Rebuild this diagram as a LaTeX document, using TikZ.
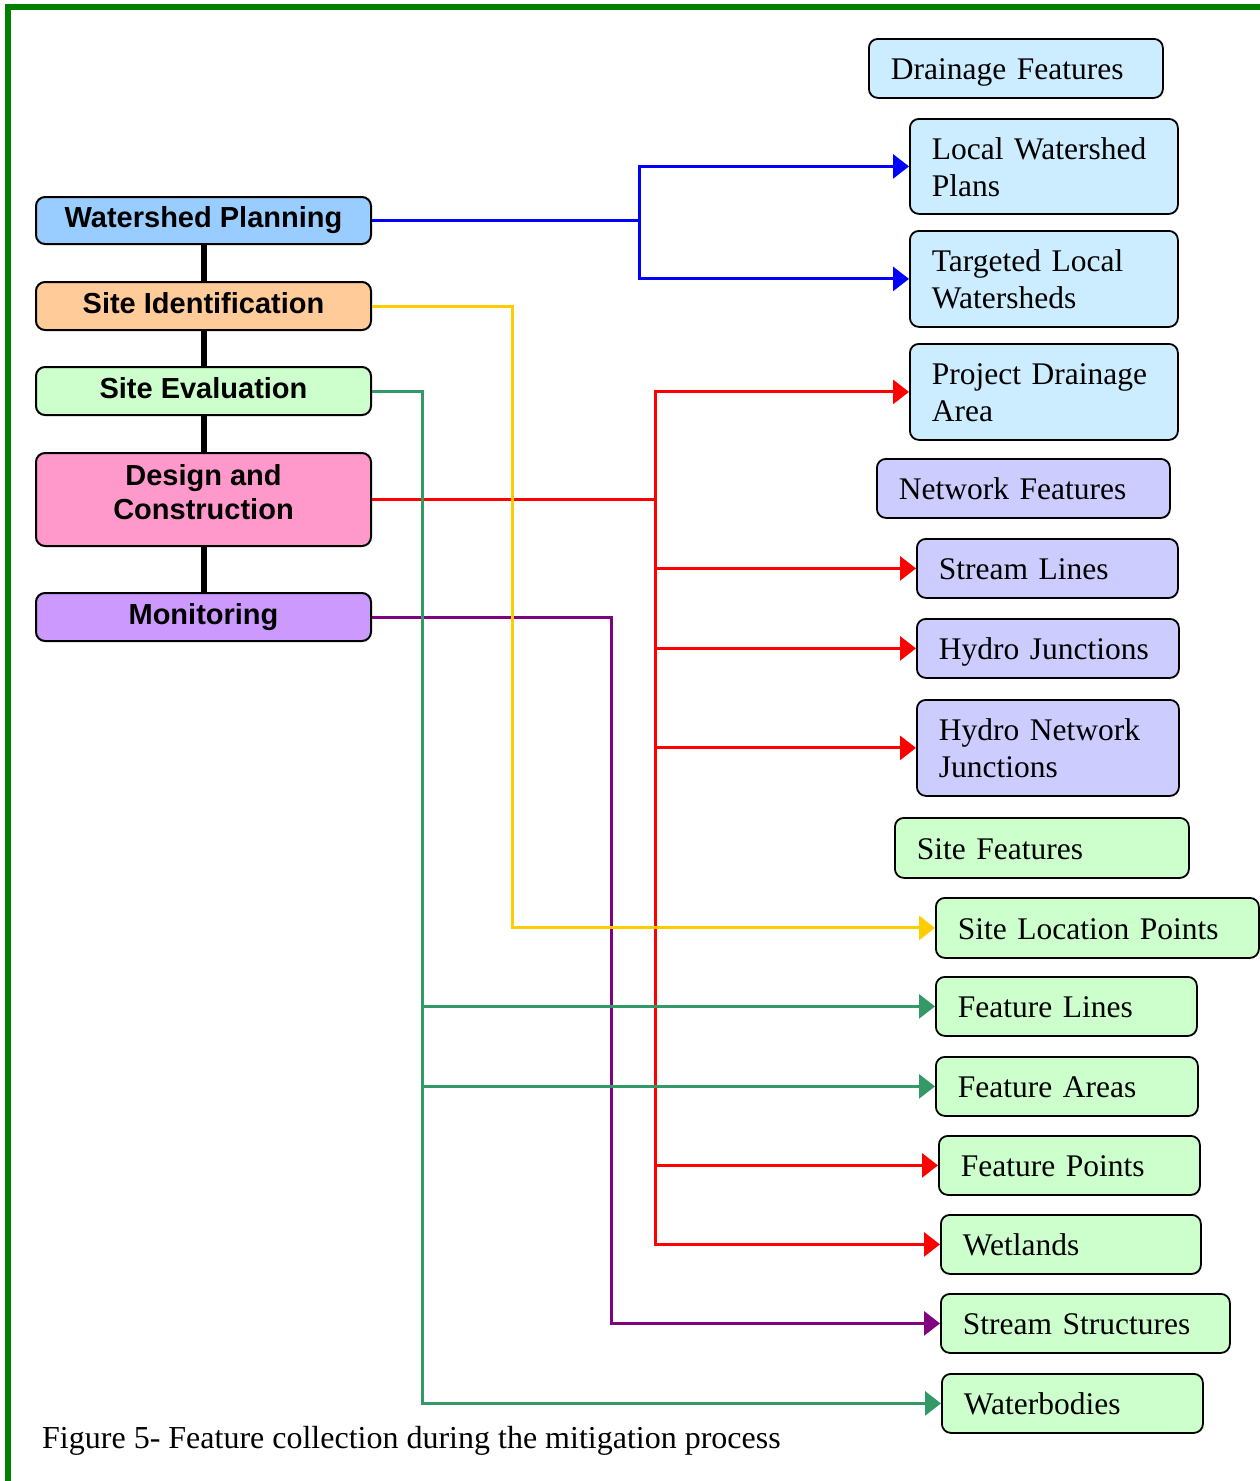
\documentclass[tikz,border=0pt]{standalone}
\usepackage{fontspec}
\setmainfont{Liberation Serif}
\newfontfamily\arialf{Liberation Sans}
\usetikzlibrary{arrows.meta}
\definecolor{frameg}{RGB}{0,128,0}
\definecolor{cwp}{RGB}{153,204,255}
\definecolor{csi}{RGB}{255,204,153}
\definecolor{cse}{RGB}{204,255,204}
\definecolor{cdc}{RGB}{255,153,204}
\definecolor{cmo}{RGB}{204,153,255}
\definecolor{cdrain}{RGB}{204,236,255}
\definecolor{cnet}{RGB}{204,204,255}
\definecolor{csite}{RGB}{204,255,204}
\definecolor{lblue}{RGB}{0,0,255}
\definecolor{lyel}{RGB}{255,204,0}
\definecolor{lgrn}{RGB}{51,153,102}
\definecolor{lred}{RGB}{255,0,0}
\definecolor{lpur}{RGB}{128,0,128}
\begin{document}
\begin{tikzpicture}[x=1pt,y=-1pt,
  lbox/.style={draw=black, line width=2pt, rounded corners=9pt, anchor=north west,
    inner sep=0pt, minimum width=335pt, align=center, text height=14pt, text depth=0pt,
    font=\arialf\bfseries\fontsize{29}{34}\selectfont},
  rbox/.style={draw=black, line width=1.8pt, rounded corners=9pt, anchor=north west,
    inner xsep=22pt, inner ysep=0pt, align=left, text height=23pt, text depth=0pt,
    font=\fontsize{31.5}{37}\selectfont},
  two/.style={text depth=37pt},
  arr/.style={line width=3pt, -{Triangle[length=16pt,width=24pt]}},
  stem/.style={line width=6pt, black}
]
\useasboundingbox (0,0) rectangle (1260,1481);
% frame
\draw[frameg, line width=6pt] (8,1481) -- (8,7) -- (1260,7);

% left column
\node[lbox, fill=cwp, minimum height=47pt] (wp) at (35,196) {Watershed Planning};
\node[lbox, fill=csi, minimum height=48pt] (si) at (35,281) {Site Identification};
\node[lbox, fill=cse, minimum height=48pt] (se) at (35,366) {Site Evaluation};
\node[lbox, fill=cdc, minimum height=93pt, text height=40pt, text depth=0pt] (dc) at (35,452) {Design and\\Construction};
\node[lbox, fill=cmo, minimum height=48pt] (mo) at (35,592) {Monitoring};

\draw[stem] (wp.south) -- (si.north);
\draw[stem] (si.south) -- (se.north);
\draw[stem] (se.south) -- (dc.north);
\draw[stem] (dc.south) -- (mo.north);

% right column
\node[rbox, fill=cdrain, minimum width=294pt, minimum height=59pt, text width=250pt] (df) at (868,38) {Drainage Features};
\node[rbox, fill=cdrain, two, minimum width=268pt, minimum height=95pt, text width=224pt] (lwp) at (909,118) {Local Watershed\\Plans};
\node[rbox, fill=cdrain, two, minimum width=268pt, minimum height=96pt, text width=224pt] (tlw) at (909,230) {Targeted Local\\Watersheds};
\node[rbox, fill=cdrain, two, minimum width=268pt, minimum height=96pt, text width=224pt] (pda) at (909,343) {Project Drainage\\Area};
\node[rbox, fill=cnet, minimum width=293pt, minimum height=59pt, text width=249pt] (nf) at (876,458) {Network Features};
\node[rbox, fill=cnet, minimum width=261pt, minimum height=59pt, text width=217pt] (sl) at (916,538) {Stream Lines};
\node[rbox, fill=cnet, minimum width=262pt, minimum height=59pt, text width=218pt] (hj) at (916,618) {Hydro Junctions};
\node[rbox, fill=cnet, two, minimum width=262pt, minimum height=96pt, text width=218pt] (hnj) at (916,699) {Hydro Network\\Junctions};
\node[rbox, fill=csite, minimum width=294pt, minimum height=60pt, text width=250pt] (sf) at (894,817) {Site Features};
\node[rbox, fill=csite, minimum width=323pt, minimum height=60pt, text width=279pt] (slp) at (935,897) {Site Location Points};
\node[rbox, fill=csite, minimum width=261pt, minimum height=59pt, text width=217pt] (fl) at (935,976) {Feature Lines};
\node[rbox, fill=csite, minimum width=262pt, minimum height=59pt, text width=218pt] (fa) at (935,1056) {Feature Areas};
\node[rbox, fill=csite, minimum width=261pt, minimum height=59pt, text width=217pt] (fp) at (938,1135) {Feature Points};
\node[rbox, fill=csite, minimum width=260pt, minimum height=59pt, text width=216pt] (wet) at (940,1214) {Wetlands};
\node[rbox, fill=csite, minimum width=289pt, minimum height=59pt, text width=245pt] (ss) at (940,1293) {Stream Structures};
\node[rbox, fill=csite, minimum width=261pt, minimum height=59pt, text width=217pt] (wb) at (941,1373) {Waterbodies};

% junction columns
\coordinate (bj) at (639,0);
\coordinate (yj) at (512,0);
\coordinate (gj) at (422,0);
\coordinate (rj) at (655,0);
\coordinate (pj) at (611,0);

% red
\draw[arr, lred] (dc.east) -| (rj |- pda.west) -- (pda.west);
\draw[arr, lred] (dc.east) -| (rj |- sl.west) -- (sl.west);
\draw[arr, lred] (dc.east) -| (rj |- hj.west) -- (hj.west);
\draw[arr, lred] (dc.east) -| (rj |- hnj.west) -- (hnj.west);
\draw[arr, lred] (dc.east) -| (rj |- fp.west) -- (fp.west);
\draw[arr, lred] (dc.east) -| (rj |- wet.west) -- (wet.west);
% purple
\draw[arr, lpur] (mo.east) -| (pj |- ss.west) -- (ss.west);
% yellow
\draw[arr, lyel] (si.east) -| (yj |- slp.west) -- (slp.west);
% green
\draw[arr, lgrn] (se.east) -| (gj |- fl.west) -- (fl.west);
\draw[arr, lgrn] (se.east) -| (gj |- fa.west) -- (fa.west);
\draw[arr, lgrn] (se.east) -| (gj |- wb.west) -- (wb.west);
% blue
\draw[arr, lblue] (wp.east) -| (bj |- lwp.west) -- (lwp.west);
\draw[arr, lblue] (wp.east) -| (bj |- tlw.west) -- (tlw.west);

% caption
\node[anchor=base west, inner sep=0pt, font=\fontsize{32}{37}\selectfont] (cap) at (42,1448) {Figure 5- Feature collection during the mitigation process};
\end{tikzpicture}
\end{document}
